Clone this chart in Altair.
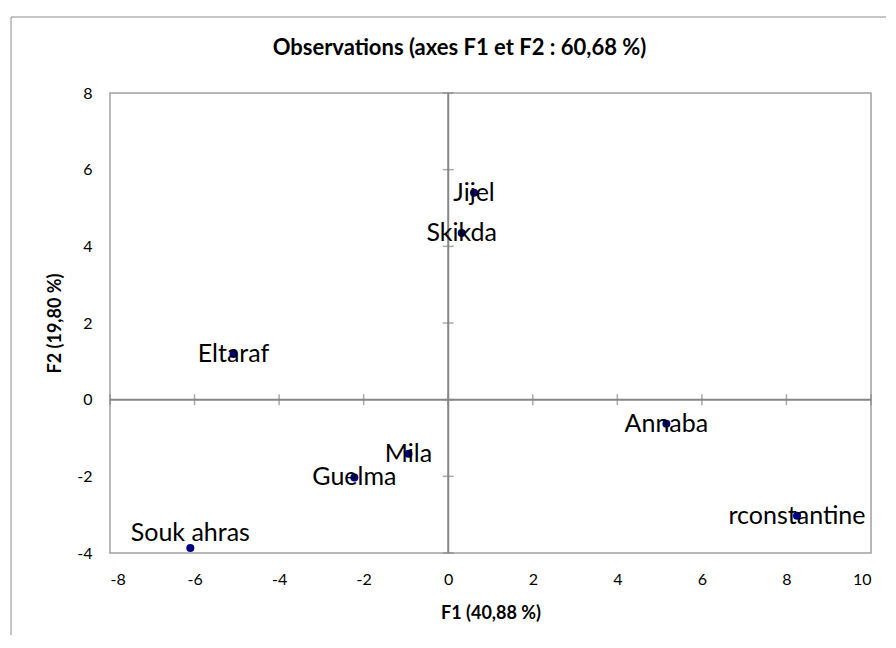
import altair as alt
import pandas as pd

names = ["Jijel", "Skikda", "Eltaraf", "Mila", "Guelma", "Souk ahras", "Annaba", "rconstantine"]
f1 = [0.61, 0.32, -5.08, -0.94, -2.22, -6.10, 5.16, 8.25]
f2 = [5.40, 4.35, 1.19, -1.41, -2.03, -3.87, -0.63, -3.03]
x_ticks = [-8, -6, -4, -2, 0, 2, 4, 6, 8, 10]
y_ticks = [-4, -2, 0, 2, 4, 6, 8]
chart_title = "Observations (axes F1 et F2 : 60,68 %)"
x_title = "F1 (40,88 %)"
y_title = "F2 (19,80 %)"
shifted_label = "Souk ahras"

df = pd.DataFrame({"name": names, "F1": f1, "F2": f2})
xt = pd.DataFrame({"t": x_ticks})
yt = pd.DataFrame({"t": y_ticks})
zero = pd.DataFrame({"v": [0]})

FONT = "Lato"
AXIS_GRAY = "#868686"

xscale = alt.Scale(domain=[-8, 10], nice=False, zero=False)
yscale = alt.Scale(domain=[-4, 8], nice=False, zero=False)

x_axis = alt.Axis(values=x_ticks, title=x_title, domain=False, ticks=False, grid=False,
                  labelExpr="datum.value + ''",
                  labelFont=FONT, labelFontSize=16, labelColor="#000000", labelPadding=18,
                  titleFont=FONT, titleFontSize=18, titleFontWeight="bold", titleColor="#000000",
                  titlePadding=17)
y_axis = alt.Axis(values=y_ticks, title=y_title, domain=False, ticks=False, grid=False,
                  labelExpr="datum.value + ''",
                  labelFont=FONT, labelFontSize=16, labelColor="#000000", labelPadding=18,
                  titleFont=FONT, titleFontSize=18, titleFontWeight="bold", titleColor="#000000",
                  titlePadding=12)

points = alt.Chart(df).mark_circle(size=65, color="#000080", opacity=1).encode(
    x=alt.X("F1:Q", scale=xscale, axis=x_axis),
    y=alt.Y("F2:Q", scale=yscale, axis=y_axis),
)

border = alt.Chart(zero).mark_rect(fill="transparent", stroke="#8c8c8c", strokeWidth=1, clip=False).encode(
    x=alt.value(-99), x2=alt.value(920), y=alt.value(-76), y2=alt.value(700)
)

vrule = alt.Chart(zero).mark_rule(color=AXIS_GRAY, strokeWidth=2).encode(
    x=alt.X("v:Q", scale=xscale)
)
hrule = alt.Chart(zero).mark_rule(color=AXIS_GRAY, strokeWidth=2).encode(
    y=alt.Y("v:Q", scale=yscale)
)

xticks_layer = alt.Chart(xt).transform_calculate(zy="0").mark_tick(
    orient="vertical", size=11, thickness=1.5, color=AXIS_GRAY
).encode(
    x=alt.X("t:Q", scale=xscale),
    y=alt.Y("zy:Q", scale=yscale),
)
yticks_layer = alt.Chart(yt).transform_calculate(zx="0").mark_tick(
    orient="horizontal", size=11, thickness=1.5, color=AXIS_GRAY
).encode(
    y=alt.Y("t:Q", scale=yscale),
    x=alt.X("zx:Q", scale=xscale),
)

labels = alt.Chart(df).transform_filter(alt.datum.name != shifted_label).mark_text(
    font=FONT, fontSize=25, color="#000000", align="center", baseline="middle"
).encode(
    x=alt.X("F1:Q", scale=xscale),
    y=alt.Y("F2:Q", scale=yscale),
    text="name:N",
)
labels_up = alt.Chart(df).transform_filter(alt.datum.name == shifted_label).mark_text(
    font=FONT, fontSize=25, color="#000000", align="center", baseline="middle", dy=-15
).encode(
    x=alt.X("F1:Q", scale=xscale),
    y=alt.Y("F2:Q", scale=yscale),
    text="name:N",
)

chart = alt.layer(
    points, border, vrule, hrule, xticks_layer, yticks_layer, labels, labels_up
).properties(
    width=761,
    height=460,
    title=alt.TitleParams(chart_title, font=FONT, fontSize=22, fontWeight="bold",
                          color="#000000", anchor="middle", dx=-31, offset=0, dy=43),
    autosize=alt.AutoSizeParams(type="none"),
    padding={"left": 102, "top": 85, "right": 15, "bottom": 82},
).configure(
    background="#ffffff"
).configure_view(
    stroke="#a0a0a0", strokeWidth=1.5
)

chart.save("out.html", embed_options={"renderer": "svg", "actions": False})
